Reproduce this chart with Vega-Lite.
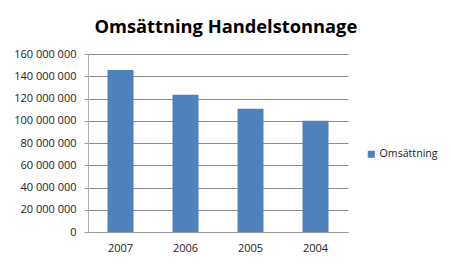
{
  "$schema": "https://vega.github.io/schema/vega-lite/v6.json",
  "autosize": {"type": "none"},
  "width": 260,
  "height": 178,
  "padding": {"left": 88, "top": 54, "right": 103, "bottom": 41},
  "background": "white",
  "title": {
    "text": "Omsättning Handelstonnage",
    "font": "Open Sans",
    "fontSize": 18.3,
    "fontWeight": "bold",
    "color": "#000000",
    "anchor": "middle",
    "frame": "bounds",
    "offset": 11
  },
  "data": {
    "values": [
      {"year": "2007", "serie": "Omsättning", "value": 145600000},
      {"year": "2006", "serie": "Omsättning", "value": 123300000},
      {"year": "2005", "serie": "Omsättning", "value": 110700000},
      {"year": "2004", "serie": "Omsättning", "value": 99900000}
    ]
  },
  "mark": {"type": "bar", "color": "#4F81BD"},
  "encoding": {
    "x": {
      "field": "year",
      "type": "nominal",
      "sort": null,
      "scale": {"paddingInner": 0.6, "paddingOuter": 0.3},
      "axis": {
        "title": null,
        "labelAngle": 0,
        "labelFont": "Open Sans",
        "labelFontSize": 11,
        "labelColor": "#222222",
        "labelPadding": 10,
        "ticks": false,
        "domainColor": "#9a9a9a",
        "grid": false
      }
    },
    "y": {
      "field": "value",
      "type": "quantitative",
      "scale": {"domain": [0, 160000000], "nice": false},
      "axis": {
        "title": null,
        "values": [0, 20000000, 40000000, 60000000, 80000000, 100000000, 120000000, 140000000, 160000000],
        "labelExpr": "replace(format(datum.value, ','), /,/g, ' ')",
        "labelFont": "Open Sans",
        "labelFontSize": 11,
        "labelColor": "#222222",
        "labelPadding": 8,
        "tickSize": 4,
        "tickColor": "#9a9a9a",
        "domainColor": "#b0b0b0",
        "gridColor": "#8c8c8c",
        "gridWidth": 1
      }
    },
    "color": {
      "field": "serie",
      "type": "nominal",
      "scale": {"range": ["#4F81BD"]},
      "legend": {
        "title": null,
        "orient": "none",
        "legendX": 278,
        "legendY": 95,
        "symbolType": "square",
        "symbolSize": 50,
        "symbolStrokeWidth": 0,
        "labelFont": "Open Sans",
        "labelFontSize": 10.6,
        "labelColor": "#222222",
        "labelOffset": 3
      }
    }
  },
  "config": {"view": {"stroke": null}}
}
